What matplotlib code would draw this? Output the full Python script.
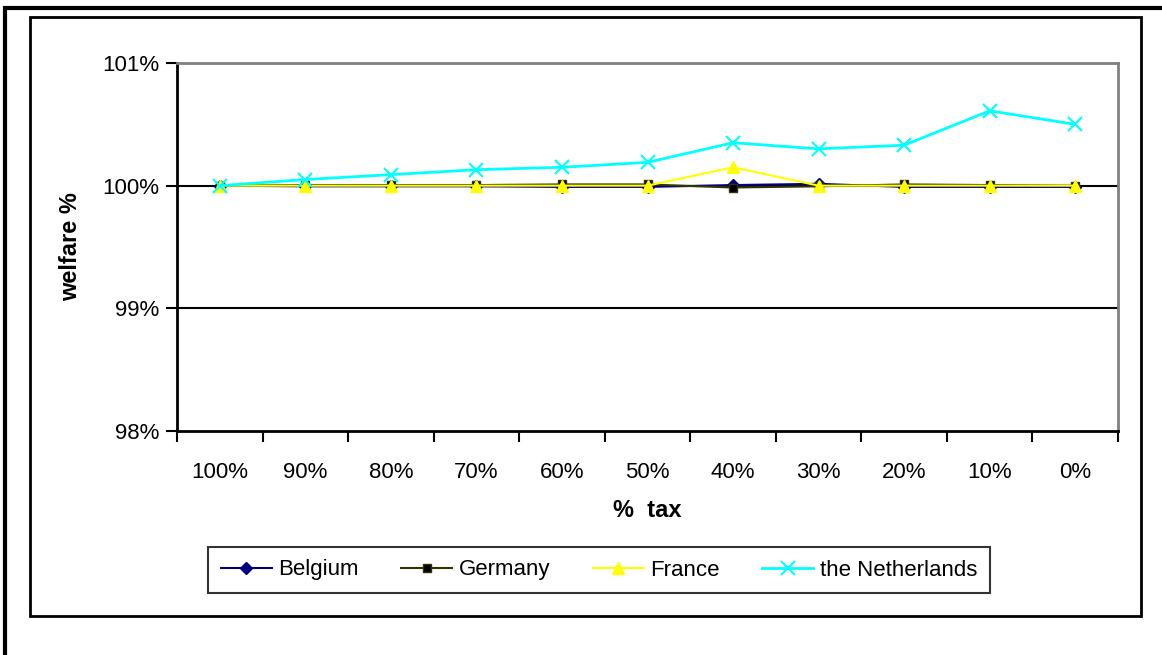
import matplotlib.pyplot as plt
from matplotlib.patches import Rectangle

plt.rcParams['font.family'] = ['Liberation Sans', 'DejaVu Sans']

tax = ['100%', '90%', '80%', '70%', '60%', '50%', '40%', '30%', '20%', '10%', '0%']
belgium = [100.0, 99.995, 99.995, 99.995, 99.99, 99.99, 100.005, 100.015, 99.99, 99.99, 99.99]
germany = [100.0, 100.005, 100.005, 100.005, 100.01, 100.01, 99.985, 99.995, 100.01, 100.005, 100.0]
france = [100.0, 100.0, 100.0, 100.0, 100.0, 100.0, 100.15, 100.0, 100.0, 100.0, 100.0]
netherlands = [100.0, 100.05, 100.09, 100.13, 100.15, 100.19, 100.35, 100.30, 100.33, 100.61, 100.50]

W, H = 1162, 655
fig = plt.figure(figsize=(W / 100, H / 100), dpi=100)

# cadres exterieur et interieur
fig.patches.append(Rectangle((5 / W, -0.1), 1.1, (H - 8) / H + 0.1, transform=fig.transFigure,
                             fill=False, ec='black', lw=3))
fig.patches.append(Rectangle((30 / W, (H - 616) / H), (1141 - 30) / W, (616 - 17) / H,
                             transform=fig.transFigure, fill=False, ec='black', lw=2))

ax = fig.add_axes([177 / W, (H - 431) / H, (1118 - 177) / W, (431 - 63) / H])

x = list(range(len(tax)))
ax.plot(x, belgium, color='#000080', marker='D', ms=6, lw=1.5, label='Belgium', zorder=3)
ax.plot(x, germany, color='#333300', marker='s', ms=6, mfc='black', lw=1.5, label='Germany', zorder=4)
ax.plot(x, france, color='#FFFF00', marker='^', ms=9, lw=1.5, label='France', zorder=5)
ax.plot(x, netherlands, color='#00FFFF', marker='x', ms=10, mew=1.5, lw=2, label='the Netherlands', zorder=6)

ax.set_xlim(-0.5, len(tax) - 0.5)
ax.set_ylim(98, 101)
ax.set_yticks([98, 99, 100, 101])
ax.set_yticklabels(['98%', '99%', '100%', '101%'], fontsize=16)
ax.set_xticks(x)
ax.set_xticklabels(tax, fontsize=16)
ax.tick_params(axis='x', length=0, pad=22)
ax.set_xticks([i - 0.5 for i in range(len(tax) + 1)], minor=True)
ax.tick_params(axis='x', which='minor', length=8, width=1.5, direction='out')
ax.tick_params(axis='y', length=8, width=1.5, direction='out', pad=5)
for yv in [99, 100, 101]:
    ax.axhline(yv, color='black', lw=1.5, zorder=1)

for s in ['top', 'right']:
    ax.spines[s].set_color('#808080')
    ax.spines[s].set_linewidth(2)
for s in ['left', 'bottom']:
    ax.spines[s].set_linewidth(2)

ax.set_ylabel('welfare %', fontsize=17, fontweight='bold', labelpad=14)
ax.set_xlabel('%  tax', fontsize=17, fontweight='bold', labelpad=12)

leg = fig.legend(loc='center', bbox_to_anchor=((210 + 988) / 2 / W, 1 - 570 / H), ncol=4,
                 fontsize=16, frameon=True, fancybox=False, edgecolor='black',
                 handlelength=2.3, columnspacing=1.9, handletextpad=0.3, borderpad=0.55)
leg.get_frame().set_linewidth(1.5)

fig.savefig('out.png', dpi=100)
